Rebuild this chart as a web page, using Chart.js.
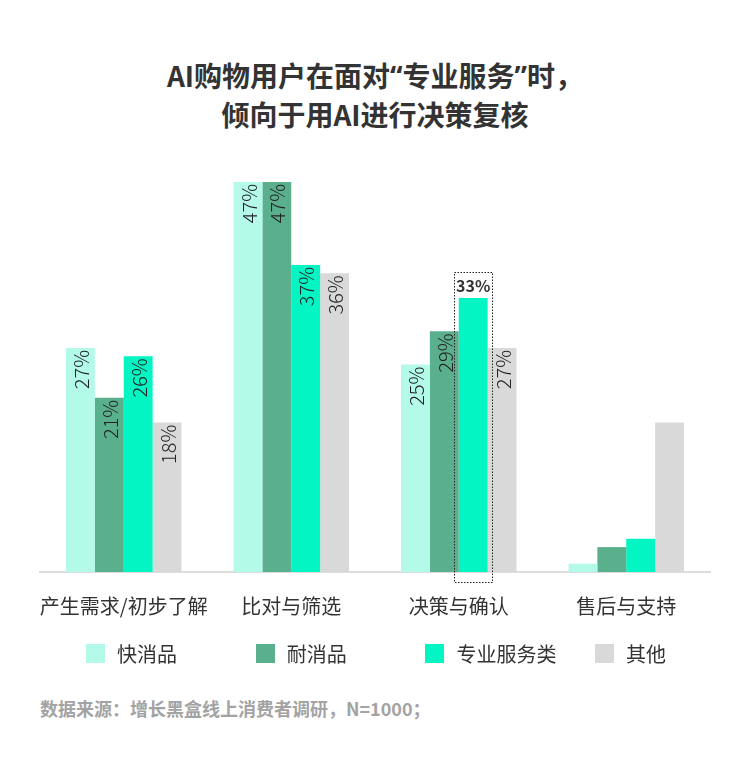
<!DOCTYPE html>
<html>
<head>
<meta charset="utf-8">
<script src="https://cdn.jsdelivr.net/npm/chart.js@4/dist/chart.umd.min.js"></script>
<style>
  html, body { margin: 0; padding: 0; background: #fff; }
  body { width: 750px; height: 780px; position: relative; overflow: hidden;
         font-family: "Noto Sans CJK SC", "Noto Sans", sans-serif; }
  #title { position: absolute; left: 0; top: 56px; width: 750px; text-align: center;
           font-size: 28px; font-weight: 700; line-height: 38px; color: #333; }
  #title .q { font-family: "Noto Sans", sans-serif; }
  #chartWrap { position: absolute; left: 0; top: 0; width: 750px; height: 640px; }
  #legend { position: absolute; top: 643px; left: 0; width: 750px; height: 20px; }
  .li { position: absolute; top: 0; height: 20px; display: flex; align-items: center;
        font-size: 20px; color: #333; white-space: nowrap; }
  .sw { width: 19px; height: 19px; margin-right: 12px; }
  #source { position: absolute; left: 40px; top: 695px; font-size: 18px; font-weight: 700;
            color: #a3a3a3; white-space: nowrap; }
</style>
</head>
<body>
<div id="title">AI购物用户在面对<span class="q">“</span>专业服务<span class="q">”</span>时，<br>倾向于用AI进行决策复核</div>
<div id="chartWrap"><canvas id="c" width="750" height="640"></canvas></div>
<div id="legend"></div>
<div id="source">数据来源：增长黑盒线上消费者调研，N=1000；</div>
<script>
// ---- data ----
const categories = ["产生需求/初步了解", "比对与筛选", "决策与确认", "售后与支持"];
const seriesNames = ["快消品", "耐消品", "专业服务类", "其他"];
const fastMoving = [27, 47, 25, 1];
const durable = [21, 47, 29, 3];
const professional = [26, 37, 33, 4];
const other = [18, 36, 27, 18];
const seriesColors = ["#b3fae8", "#5aaf8c", "#02f5c3", "#d9d9d9"];
const labelledCategories = [true, true, true, false];
const highlight = { dataset: 2, index: 2 };

const seriesValues = [fastMoving, durable, professional, other];

// legend (HTML)
const legendEl = document.getElementById('legend');
seriesNames.forEach((name, i) => {
  const d = document.createElement('div');
  d.className = 'li';
  d.style.left = (86 + i * 169.7) + 'px';
  d.innerHTML = '<span class="sw" style="background:' + seriesColors[i] + '"></span>' + name;
  legendEl.appendChild(d);
});

const labelPlugin = {
  id: 'barLabels',
  afterDatasetsDraw(chart) {
    const ctx = chart.ctx;
    chart.data.datasets.forEach((ds, di) => {
      const meta = chart.getDatasetMeta(di);
      meta.data.forEach((bar, idx) => {
        if (!labelledCategories[idx]) return;
        const text = ds.data[idx] + '%';
        if (di === highlight.dataset && idx === highlight.index) {
          const half = bar.width / 2;
          const left = bar.x - half - 5;
          const right = bar.x + half + 4;
          const top = bar.y - 26;
          const bottom = bar.base + 10;
          ctx.save();
          ctx.strokeStyle = '#222';
          ctx.lineWidth = 1;
          ctx.setLineDash([1.5, 1.5]);
          ctx.strokeRect(Math.round(left) + 0.5, Math.round(top) + 0.5,
                         Math.round(right - left), Math.round(bottom - top));
          ctx.setLineDash([]);
          ctx.fillStyle = '#333';
          ctx.font = '700 16px "Noto Sans CJK SC", "Noto Sans", sans-serif';
          ctx.textAlign = 'center';
          ctx.textBaseline = 'middle';
          ctx.fillText(text, bar.x, bar.y - 12);
          ctx.restore();
          return;
        }
        ctx.save();
        ctx.translate(bar.x + 1, bar.y + 2);
        ctx.rotate(-Math.PI / 2);
        ctx.fillStyle = '#222';
        ctx.font = '300 20px "Noto Sans CJK SC", "Noto Sans", sans-serif';
        ctx.textAlign = 'right';
        ctx.textBaseline = 'middle';
        ctx.fillText(text, 0, 0);
        ctx.restore();
      });
    });
  }
};

new Chart(document.getElementById('c'), {
  type: 'bar',
  data: {
    labels: categories,
    datasets: seriesNames.map((n, i) => ({
      label: n,
      data: seriesValues[i],
      backgroundColor: seriesColors[i],
      borderWidth: 0,
      categoryPercentage: 0.69,
      barPercentage: 1.0
    }))
  },
  options: {
    responsive: false,
    animation: false,
    devicePixelRatio: 1,
    layout: { padding: { left: 40, right: 40, top: 157, bottom: 0 } },
    plugins: { legend: { display: false }, title: { display: false }, tooltip: { enabled: false } },
    scales: {
      x: {
        grid: { display: false, drawTicks: false },
        border: { display: true, color: '#dddddd', width: 2 },
        ticks: { color: '#333', padding: 22, maxRotation: 0, autoSkip: false,
                 font: { size: 20, family: '"Noto Sans CJK SC", "Noto Sans", sans-serif' } },
        afterFit(scale) { scale.height = 68; }
      },
      y: { display: false, min: 0, max: 50 }
    }
  },
  plugins: [labelPlugin]
});
</script>
</body>
</html>
